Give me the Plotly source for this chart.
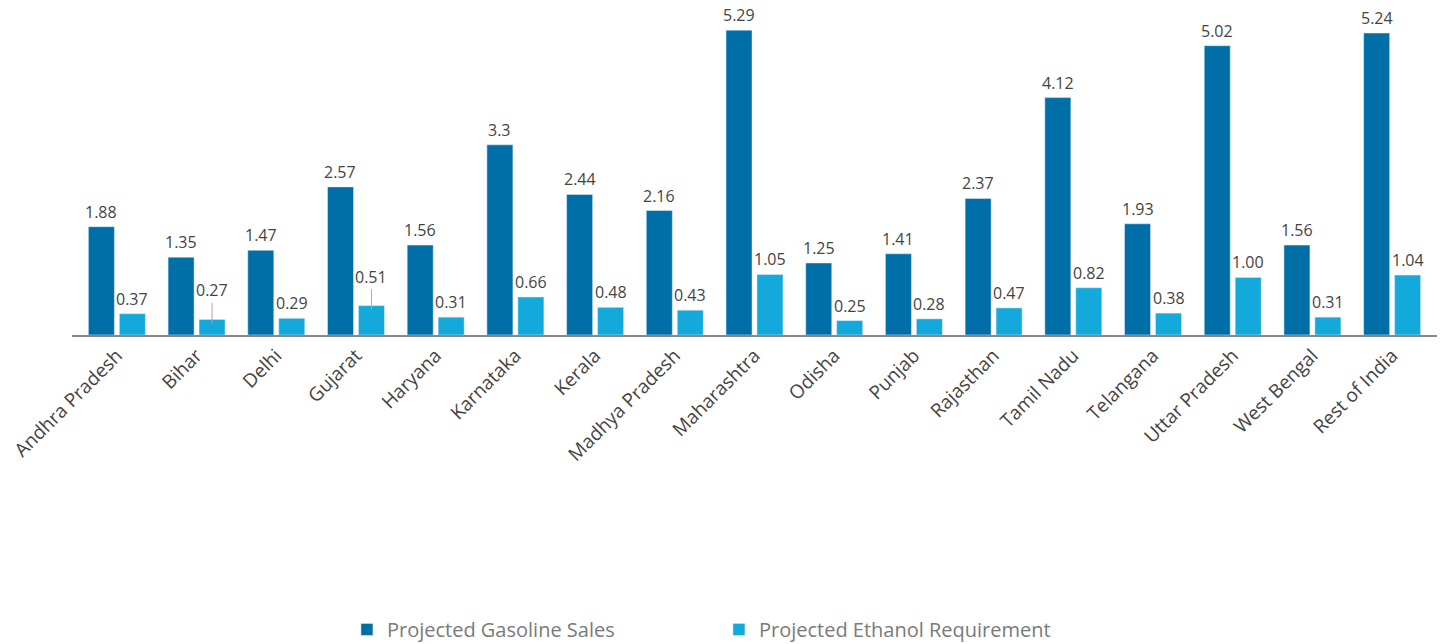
import plotly.graph_objects as go

states = ["Andhra Pradesh", "Bihar", "Delhi", "Gujarat", "Haryana", "Karnataka", "Kerala",
          "Madhya Pradesh", "Maharashtra", "Odisha", "Punjab", "Rajasthan", "Tamil Nadu",
          "Telangana", "Uttar Pradesh", "West Bengal", "Rest of India"]
gasoline = [1.88, 1.35, 1.47, 2.57, 1.56, 3.3, 2.44, 2.16, 5.29, 1.25, 1.41, 2.37, 4.12,
            1.93, 5.02, 1.56, 5.24]
ethanol = [0.37, 0.27, 0.29, 0.51, 0.31, 0.66, 0.48, 0.43, 1.05, 0.25, 0.28, 0.47, 0.82,
           0.38, 1.00, 0.31, 1.04]
gas_labels = ["1.88", "1.35", "1.47", "2.57", "1.56", "3.3", "2.44", "2.16", "5.29", "1.25",
              "1.41", "2.37", "4.12", "1.93", "5.02", "1.56", "5.24"]
eth_labels = ["0.37", "0.27", "0.29", "0.51", "0.31", "0.66", "0.48", "0.43", "1.05", "0.25",
              "0.28", "0.47", "0.82", "0.38", "1.00", "0.31", "1.04"]
leader_states = ["Bihar", "Gujarat"]

C_GAS = "#006FA8"
C_ETH = "#13A9DA"
FONT = "Open Sans"
LABEL_FONT = dict(family=FONT, size=16, color="#444")

fig = go.Figure()
fig.add_trace(go.Bar(x=states, y=gasoline, name="Projected Gasoline Sales",
                     marker_color=C_GAS, hoverinfo="x+y"))
fig.add_trace(go.Bar(x=states, y=ethanol, name="Projected Ethanol Requirement",
                     marker_color=C_ETH, hoverinfo="x+y"))

annos = []
for s, v, t in zip(states, gasoline, gas_labels):
    annos.append(dict(x=s, y=v, text=t, showarrow=False, xshift=-15.5, yanchor="bottom",
                      yshift=2, font=LABEL_FONT))
for s, v, t in zip(states, ethanol, eth_labels):
    if s in leader_states:
        annos.append(dict(x=s, y=v, text=t, showarrow=True, arrowhead=0, arrowwidth=1,
                          arrowcolor="#aaaaaa", ax=0, ay=-33, standoff=0, xshift=15.5,
                          yshift=-4, font=LABEL_FONT))
    else:
        annos.append(dict(x=s, y=v, text=t, showarrow=False, xshift=15.5, yanchor="bottom",
                          yshift=2, font=LABEL_FONT))

fig.update_layout(
    width=1448, height=644,
    margin=dict(l=72, r=11, t=10, b=309, autoexpand=False),
    paper_bgcolor="white", plot_bgcolor="white",
    barmode="group", bargap=0.223, bargroupgap=0.16,
    annotations=annos,
    showlegend=True,
    legend=dict(orientation="h", x=0.2396, xref="container", xanchor="left", y=-0.906,
                yref="paper", yanchor="middle", entrywidth=327, entrywidthmode="pixels",
                font=dict(family=FONT, size=20, color="#7a7a7a"), itemclick=False),
    xaxis=dict(tickangle=-45, tickfont=dict(family=FONT, size=19, color="#444"),
               range=[-0.563, 16.563],
               showline=True, linecolor="#888", linewidth=2, ticks="", showgrid=False),
    yaxis=dict(range=[0, 5.64], visible=False, showgrid=False, zeroline=False),
)

fig.write_html("out.html", config={"displayModeBar": False},
               post_script="document.body.style.margin='0';document.body.style.overflow='hidden';")
